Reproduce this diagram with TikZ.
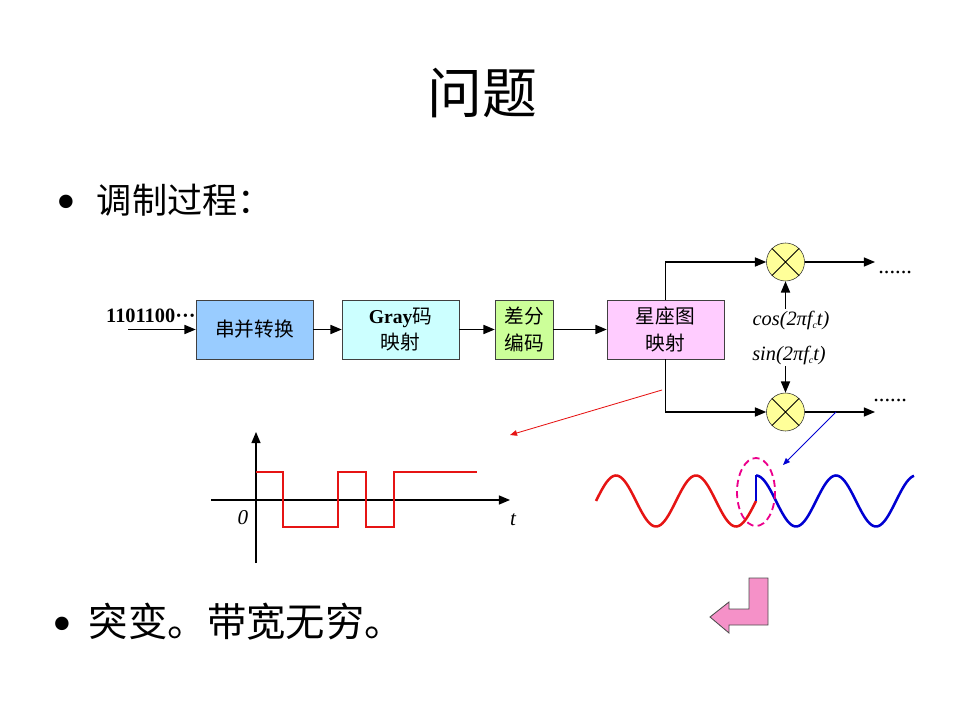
\documentclass[tikz,border=0pt]{standalone}
\usepackage{fontspec}
\setmainfont{Liberation Serif}
\newfontfamily\cjk{Noto Sans CJK SC}
\usepackage{tikz}
\usetikzlibrary{shapes.geometric, arrows.meta}
\definecolor{serbox}{RGB}{153,204,255}
\definecolor{graybox}{RGB}{204,255,255}
\definecolor{diffbox}{RGB}{204,255,153}
\definecolor{mapbox}{RGB}{255,204,255}
\definecolor{mixfill}{RGB}{255,255,153}
\definecolor{wavered}{RGB}{230,20,20}
\definecolor{waveblue}{RGB}{0,0,210}
\definecolor{backpink}{RGB}{245,145,200}
\tikzstyle{process} = [rectangle, minimum width=2.925cm, minimum height=1.475cm, text centered, align=center, draw=black!75, font=\fontsize{14}{19}\selectfont\cjk]
\tikzstyle{mixer} = [circle, minimum size=0.95cm, draw=black!80, fill=mixfill]
\tikzstyle{arrow} = [line width=0.9pt,-{Stealth[length=8pt,width=6.5pt,inset=0pt]}]
\tikzstyle{pointer} = [line width=0.6pt,-{Stealth[length=5pt,width=4pt,inset=0pt]}]
\tikzstyle{carrier} = [font=\fontsize{14.5}{16}\selectfont\itshape, inner sep=1pt]
\tikzstyle{dots} = [font=\fontsize{16}{16}\selectfont, anchor=base west, inner sep=0pt]
\tikzstyle{bullet} = [font=\fontsize{40}{40}\selectfont, inner sep=0pt]

\begin{document}
\begin{tikzpicture}[x=0.025cm, y=-0.025cm]
    \useasboundingbox (0,0) rectangle (960,720);

    \node (title) at (482,93) [font=\fontsize{39}{39}\selectfont\cjk] {问题};
    \node (bul1) [bullet] at (66,208) {\textbullet};
    \node (txt1) [anchor=west, font=\fontsize{25}{25}\selectfont\cjk] at (92,200) {调制过程：};

    \node (ser) [process, fill=serbox] at (254.5,329.5) {串并转换};
    \node (gray) [process, fill=graybox] at (400.5,329.5) {{\rmfamily\bfseries Gray}码\\映射};
    \node (diff) [process, fill=diffbox, minimum width=1.45cm] at (524,329.5) {差分\\编码};
    \node (map) [process, fill=mapbox] at (665.5,329.5) {星座图\\映射};
    \node (bits) [anchor=east, font=\fontsize{14.5}{14.5}\selectfont\bfseries, inner sep=0pt] at (196,316) {1101100···};
    \coordinate (in) at (128,329.5);

    \node (m1) [mixer] at (785.5,262) {};
    \node (m2) [mixer] at (785.5,412) {};
    \draw [line width=0.6pt] (m1.north west) -- (m1.south east) (m1.north east) -- (m1.south west);
    \draw [line width=0.6pt] (m2.north west) -- (m2.south east) (m2.north east) -- (m2.south west);
    \node (cosl) [carrier] at (791,320) {cos(2π\textit{f}\raisebox{-0.4ex}{\scriptsize c}t)};
    \node (sinl) [carrier] at (789,355) {sin(2π\textit{f}\raisebox{-0.4ex}{\scriptsize c}t)};
    \coordinate (o1) at (875,262);
    \coordinate (o2) at (875,412);
    \node (d1) [dots] at (878,274) {......};
    \node (d2) [dots] at (873,402) {......};

    \draw [arrow] (in) -- (ser);
    \draw [arrow] (ser) -- (gray);
    \draw [arrow] (gray) -- (diff);
    \draw [arrow] (diff) -- (map);
    \draw [arrow] (map.north) |- (m1.west);
    \draw [arrow] (map.south) |- (m2.west);
    \draw [arrow] (m1) -- (o1);
    \draw [arrow] (m2) -- (o2);
    \draw [arrow] (cosl.north -| m1.south) -- (m1.south);
    \draw [arrow] (sinl.south -| m2.north) -- (m2.north);

    % pointers to the two waveforms
    \coordinate (rp) at (662,390);
    \coordinate (rq) at (510,435);
    \coordinate (bp) at (836,412);
    \coordinate (bq) at (783,465);
    \draw [pointer, wavered] (rp) -- (rq);
    \draw [pointer, waveblue] (bp) -- (bq);

    % baseband signal
    \draw [arrow] (256,563) -- (256,432);
    \draw [arrow] (211,500) -- (510,500);
    \node (zero) at (243,518) [font=\fontsize{15}{15}\selectfont\itshape] {0};
    \node (tlab) at (513,520) [font=\fontsize{15}{15}\selectfont\itshape] {t};
    \draw [wavered, line width=1pt] (256,472) -- (283,472) -- (283,527) -- (338,527) -- (338,472) -- (366,472)
        -- (366,527) -- (394,527) -- (394,472) -- (477,472);

    % carrier with phase jump
    \draw [wavered, line width=1.8pt, domain=596:756, samples=90] plot (\x, {501-25.5*sin(4.5*(\x-596))});
    \draw [waveblue, line width=1.8pt] (756,501) -- (756,475.5);
    \draw [waveblue, line width=1.8pt, domain=756:914, samples=90] plot (\x, {501-25.5*cos(4.5*(\x-756))});
    \draw [magenta, dash pattern=on 5pt off 3pt, line width=1.3pt] (756,492) ellipse [x radius=19, y radius=34];

    \node (bul2) [bullet] at (62,630) {\textbullet};
    \node (txt2) [anchor=west, font=\fontsize{28}{28}\selectfont\cjk] at (84,622) {突变。带宽无穷。};

    \draw [fill=backpink, draw=black!70, line width=0.6pt] (749,578) -- (768,578) -- (768,625) -- (729,625) -- (729,633)
        -- (710,617) -- (729,602) -- (729,609) -- (749,609) -- cycle;
\end{tikzpicture}
\end{document}
